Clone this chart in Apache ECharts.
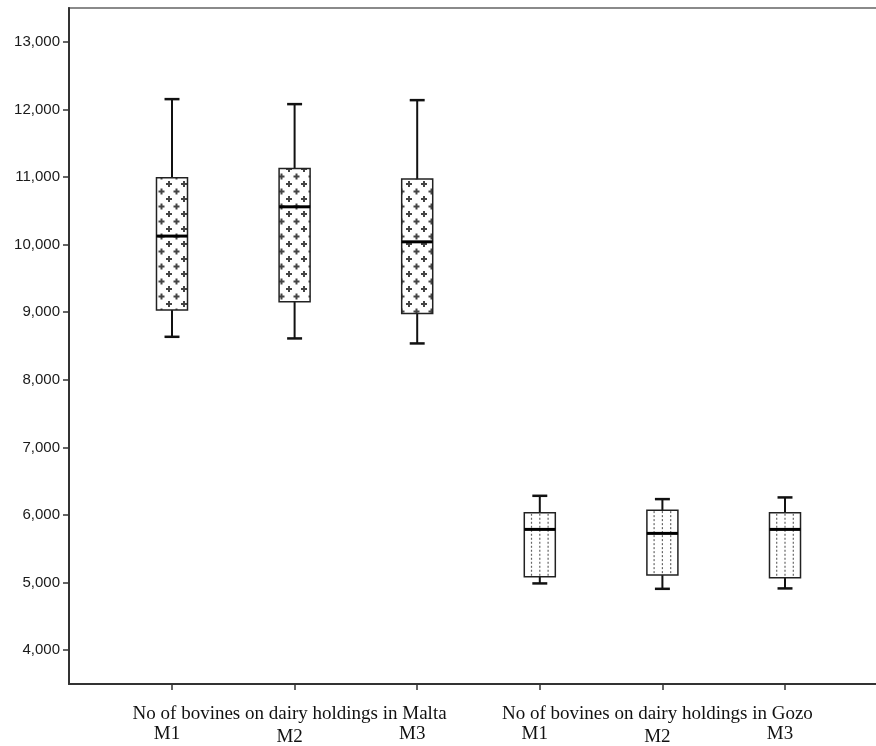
<!DOCTYPE html>
<html>
<head>
<meta charset="utf-8">
<script src="https://cdn.jsdelivr.net/npm/echarts@6/dist/echarts.min.js"></script>
<style>html,body{margin:0;padding:0;background:#fff;}#chart{width:876px;height:746px;}</style>
</head>
<body>
<div id="chart"></div>
<script>
// ---- data ----
var categories = ['Malta M1', 'Malta M2', 'Malta M3', 'Gozo M1', 'Gozo M2', 'Gozo M3'];
var measureLabels = ['M1', 'M2', 'M3', 'M1', 'M2', 'M3'];
var groupOf = [0, 0, 0, 1, 1, 1];
var groupTitles = ['No of bovines on dairy holdings in Malta', 'No of bovines on dairy holdings in Gozo'];
var lowerWhisker = [8636, 8612, 8538, 4988, 4908, 4914];
var q1Values = [9031, 9154, 8982, 5086, 5111, 5071];
var medianValues = [10126, 10559, 10041, 5787, 5728, 5787];
var q3Values = [10988, 11127, 10969, 6033, 6072, 6033];
var upperWhisker = [12152, 12078, 12137, 6284, 6235, 6260];
var yTicks = [4000, 5000, 6000, 7000, 8000, 9000, 10000, 11000, 12000, 13000];
var yMin = 3500, yMax = 13500;

// ---- pattern for Malta boxes (plus signs) ----
var plusCanvas = document.createElement('canvas');
plusCanvas.width = 15; plusCanvas.height = 15;
(function () {
  var c = plusCanvas.getContext('2d');
  c.fillStyle = '#fff'; c.fillRect(0, 0, 15, 15);
  c.fillStyle = '#444';
  function plus(x, y) { c.fillRect(x - 3, y - 1, 6, 2); c.fillRect(x - 1, y - 3, 2, 6); }
  plus(4, 4); plus(11.5, 11.5);
})();

var data = categories.map(function (c, i) {
  return [i, lowerWhisker[i], q1Values[i], medianValues[i], q3Values[i], upperWhisker[i], groupOf[i]];
});

function fmt(v) { return String(v).replace(/\B(?=(\d{3})+(?!\d))/g, ','); }

var chart = echarts.init(document.getElementById('chart'), null, { renderer: 'canvas' });
chart.setOption({
  animation: false,
  backgroundColor: '#fff',
  grid: [
    { left: 69, width: 830, top: 8, bottom: 62, outerBoundsMode: 'none', containLabel: false, show: true, borderColor: '#8a8a8a', borderWidth: 2, backgroundColor: 'transparent' },
    { left: 110.7, right: 29.7, top: 8, bottom: 62, outerBoundsMode: 'none', containLabel: false }
  ],
  xAxis: [
    { gridIndex: 0, type: 'value', min: 0, max: 1,
      axisLine: { show: true, lineStyle: { color: '#333', width: 2 } },
      axisTick: { show: false }, axisLabel: { show: false }, splitLine: { show: false } },
    { gridIndex: 1, type: 'category', data: categories, boundaryGap: true,
      axisLine: { show: false },
      axisTick: { show: true, alignWithLabel: true, length: 6, lineStyle: { color: '#333', width: 1.5 } },
      axisLabel: {
        margin: 20, interval: 0, padding: [0, 10, 0, 0],
        formatter: function (v, i) {
          var isMid = measureLabels[i] === 'M2';
          return (isMid ? '{t|' + groupTitles[groupOf[i]] + '}' : '{t| }') + '\n' + (isMid ? '{m2|' : '{m|') + measureLabels[i] + '}';
        },
        rich: {
          t: { fontFamily: 'Liberation Serif', fontSize: 19, lineHeight: 20, color: '#111', align: 'center' },
          m: { fontFamily: 'Liberation Serif', fontSize: 19, lineHeight: 20, color: '#111', align: 'center' },
          m2: { fontFamily: 'Liberation Serif', fontSize: 19, lineHeight: 27, color: '#111', align: 'center' }
        }
      },
      splitLine: { show: false } }
  ],
  yAxis: [
    { gridIndex: 0, type: 'value', min: yMin, max: yMax,
      axisLine: { show: true, lineStyle: { color: '#333', width: 2 } },
      axisTick: { show: true, length: 6, customValues: yTicks, lineStyle: { color: '#333', width: 1.5 } },
      axisLabel: { margin: 9, customValues: yTicks, formatter: fmt, fontFamily: 'Liberation Sans', fontSize: 15, color: '#1a1a1a' },
      splitLine: { show: false } },
    { gridIndex: 1, type: 'value', min: yMin, max: yMax, show: false, splitLine: { show: false } }
  ],
  series: [{
    type: 'custom',
    xAxisIndex: 1, yAxisIndex: 1,
    data: data,
    encode: { x: 0, y: [1, 2, 3, 4, 5] },
    renderItem: function (params, api) {
      var x = api.value(0);
      var pMin = api.coord([x, api.value(1)]);
      var pQ1 = api.coord([x, api.value(2)]);
      var pMed = api.coord([x, api.value(3)]);
      var pQ3 = api.coord([x, api.value(4)]);
      var pMax = api.coord([x, api.value(5)]);
      var band = api.size([1, 0])[0];
      var bw = band * 0.253, cw = band * 0.122;
      var cx = pMin[0];
      var g = api.value(6);
      var ls = { stroke: '#111', lineWidth: 2 };
      var children = [
        { type: 'line', shape: { x1: cx, y1: pMax[1], x2: cx, y2: pQ3[1] }, style: ls },
        { type: 'line', shape: { x1: cx, y1: pQ1[1], x2: cx, y2: pMin[1] }, style: ls },
        { type: 'line', shape: { x1: cx - cw / 2, y1: pMax[1], x2: cx + cw / 2, y2: pMax[1] }, style: { stroke: '#111', lineWidth: 2.5 } },
        { type: 'line', shape: { x1: cx - cw / 2, y1: pMin[1], x2: cx + cw / 2, y2: pMin[1] }, style: { stroke: '#111', lineWidth: 2.5 } },
        { type: 'rect', shape: { x: cx - bw / 2, y: pQ3[1], width: bw, height: pQ1[1] - pQ3[1] },
          style: { fill: g === 0 ? { image: plusCanvas, repeat: 'repeat' } : '#fff', stroke: '#222', lineWidth: 1.5 } }
      ];
      if (g === 1) {
        [-8.3, 0, 8.3].forEach(function (dx) {
          children.push({ type: 'line', shape: { x1: cx + dx, y1: pQ3[1] + 1, x2: cx + dx, y2: pQ1[1] - 1 },
            style: { stroke: '#666', lineWidth: 1.2, lineDash: [2, 2] } });
        });
      }
      children.push({ type: 'line', shape: { x1: cx - bw / 2, y1: pMed[1], x2: cx + bw / 2, y2: pMed[1] }, style: { stroke: '#000', lineWidth: 3 } });
      return { type: 'group', children: children };
    }
  }]
});
</script>
</body>
</html>
